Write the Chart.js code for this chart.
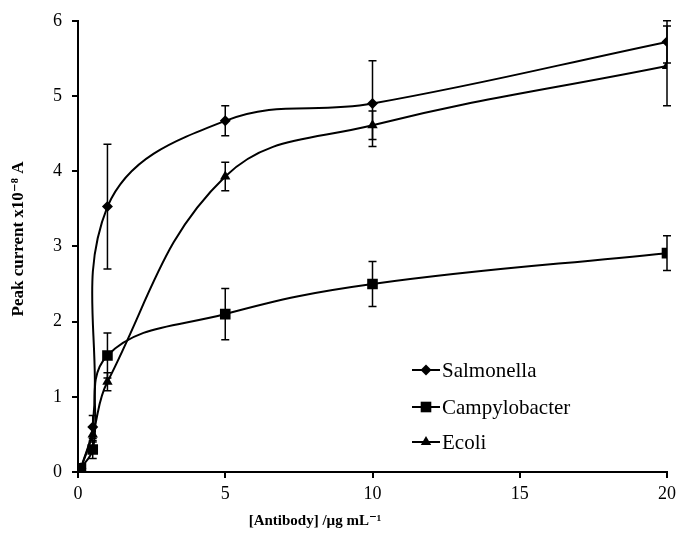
<!DOCTYPE html>
<html>
<head>
<meta charset="utf-8">
<script src="https://cdn.jsdelivr.net/npm/chart.js@4/dist/chart.umd.min.js"></script>
<style>
    html, body { margin: 0; padding: 0; background: #fff; }
    #wrap { width: 678px; height: 534px; }
</style>
</head>
<body>
<div id="wrap"><canvas id="chart" width="678" height="534"></canvas></div>
<script>
// Antibody concentration (µg/mL)
const antibody = [0.1, 0.5, 1, 5, 10, 20];

// Peak current (x10^-8 A) and error bar half-widths
const salmonella = [0.05, 0.6, 3.53, 4.67, 4.9, 5.72];
const salmonellaErr = [0, 0.15, 0.83, 0.2, 0.57, 0.28];

const campylobacter = [0.05, 0.3, 1.55, 2.1, 2.5, 2.91];
const campylobacterErr = [0, 0.12, 0.3, 0.34, 0.3, 0.23];

const ecoli = [0.05, 0.5, 1.2, 3.93, 4.61, 5.4];
const ecoliErr = [0, 0.1, 0.12, 0.19, 0.19, 0.53];

const xTicks = [0, 5, 10, 15, 20];
const yTicks = [0, 1, 2, 3, 4, 5, 6];

const seriesNames = ['Salmonella', 'Campylobacter', 'Ecoli'];
const seriesStyles = ['rectRot', 'rect', 'triangle'];

const FONT = '"Liberation Serif", "DejaVu Serif", serif';

function toPoints(values) {
    return antibody.map((x, i) => ({ x: x, y: values[i] }));
}

function makeDataset(label, values, errors, pointStyle, radius) {
    return {
        label: label,
        data: toPoints(values),
        errors: errors,
        borderColor: '#000',
        backgroundColor: '#000',
        borderWidth: 2,
        pointStyle: pointStyle,
        pointRadius: radius,
        pointBorderWidth: 0,
        tension: 0.4,
        fill: false
    };
}

// Vertical error bars with caps
const errorBars = {
    id: 'errorBars',
    afterDatasetsDraw(chart) {
        const ctx = chart.ctx;
        const xs = chart.scales.x;
        const ys = chart.scales.y;
        ctx.save();
        ctx.strokeStyle = '#000';
        ctx.lineWidth = 1.5;
        chart.data.datasets.forEach(ds => {
            ds.data.forEach((p, i) => {
                const e = ds.errors[i];
                if (!e) return;
                const px = xs.getPixelForValue(p.x);
                const top = ys.getPixelForValue(p.y + e);
                const bot = ys.getPixelForValue(p.y - e);
                ctx.beginPath();
                ctx.moveTo(px, top);
                ctx.lineTo(px, bot);
                ctx.moveTo(px - 4, top);
                ctx.lineTo(px + 4, top);
                ctx.moveTo(px - 4, bot);
                ctx.lineTo(px + 4, bot);
                ctx.stroke();
            });
        });
        ctx.restore();
    }
};

// Axis titles and in-plot legend
const annotations = {
    id: 'annotations',
    afterDraw(chart) {
        const ctx = chart.ctx;
        ctx.save();
        ctx.fillStyle = '#000';
        ctx.textBaseline = 'middle';

        // x title
        ctx.font = 'bold 15px ' + FONT;
        ctx.textAlign = 'center';
        ctx.fillText('[Antibody] /µg mL⁻¹', 315, 521);

        // y title
        ctx.save();
        ctx.translate(19, 239);
        ctx.rotate(-Math.PI / 2);
        ctx.font = 'bold 17px ' + FONT;
        ctx.fillText('Peak current x10⁻⁸ A', 0, 0);
        ctx.restore();

        // legend
        ctx.font = '21px ' + FONT;
        ctx.textAlign = 'left';
        ctx.strokeStyle = '#000';
        ctx.lineWidth = 2;
        const lx = 412;
        const rows = [370, 407, 442];
        chart.data.datasets.forEach((ds, i) => {
            const y = rows[i];
            ctx.beginPath();
            ctx.moveTo(lx, y);
            ctx.lineTo(lx + 28, y);
            ctx.stroke();
            Chart.helpers.drawPoint(ctx, {
                pointStyle: ds.pointStyle,
                radius: ds.pointRadius,
                borderWidth: 0,
                rotation: 0
            }, lx + 14, y);
            ctx.fillText(ds.label, lx + 30, y + 1);
        });
        ctx.restore();
    }
};

new Chart(document.getElementById('chart'), {
    type: 'line',
    data: {
        datasets: [
            makeDataset(seriesNames[0], salmonella, salmonellaErr, seriesStyles[0], 5.5),
            makeDataset(seriesNames[1], campylobacter, campylobacterErr, seriesStyles[1], 7.5),
            makeDataset(seriesNames[2], ecoli, ecoliErr, seriesStyles[2], 6)
        ]
    },
    options: {
        responsive: false,
        animation: false,
        layout: { padding: { left: 0, right: 11, top: 18, bottom: 0 } },
        plugins: {
            legend: { display: false },
            tooltip: { enabled: false }
        },
        scales: {
            x: {
                type: 'linear',
                min: 0,
                max: 20,
                afterFit(scale) {
                    scale.height = 62;
                    scale.paddingRight = 0;
                    scale.paddingLeft = 0;
                },
                afterBuildTicks(scale) { scale.ticks = xTicks.map(v => ({ value: v })); },
                border: { display: true, color: '#000', width: 2 },
                grid: { drawOnChartArea: false, drawTicks: true, tickLength: 6, color: '#000', lineWidth: 2 },
                ticks: { color: '#000', font: { family: FONT, size: 18 }, padding: 5 }
            },
            y: {
                type: 'linear',
                min: 0,
                max: 6,
                afterFit(scale) { scale.width = 78; },
                afterBuildTicks(scale) { scale.ticks = yTicks.map(v => ({ value: v })); },
                border: { display: true, color: '#000', width: 2 },
                grid: { drawOnChartArea: false, drawTicks: true, tickLength: 6, color: '#000', lineWidth: 2 },
                ticks: { color: '#000', font: { family: FONT, size: 18 }, padding: 10 }
            }
        }
    },
    plugins: [errorBars, annotations]
});
</script>
</body>
</html>
